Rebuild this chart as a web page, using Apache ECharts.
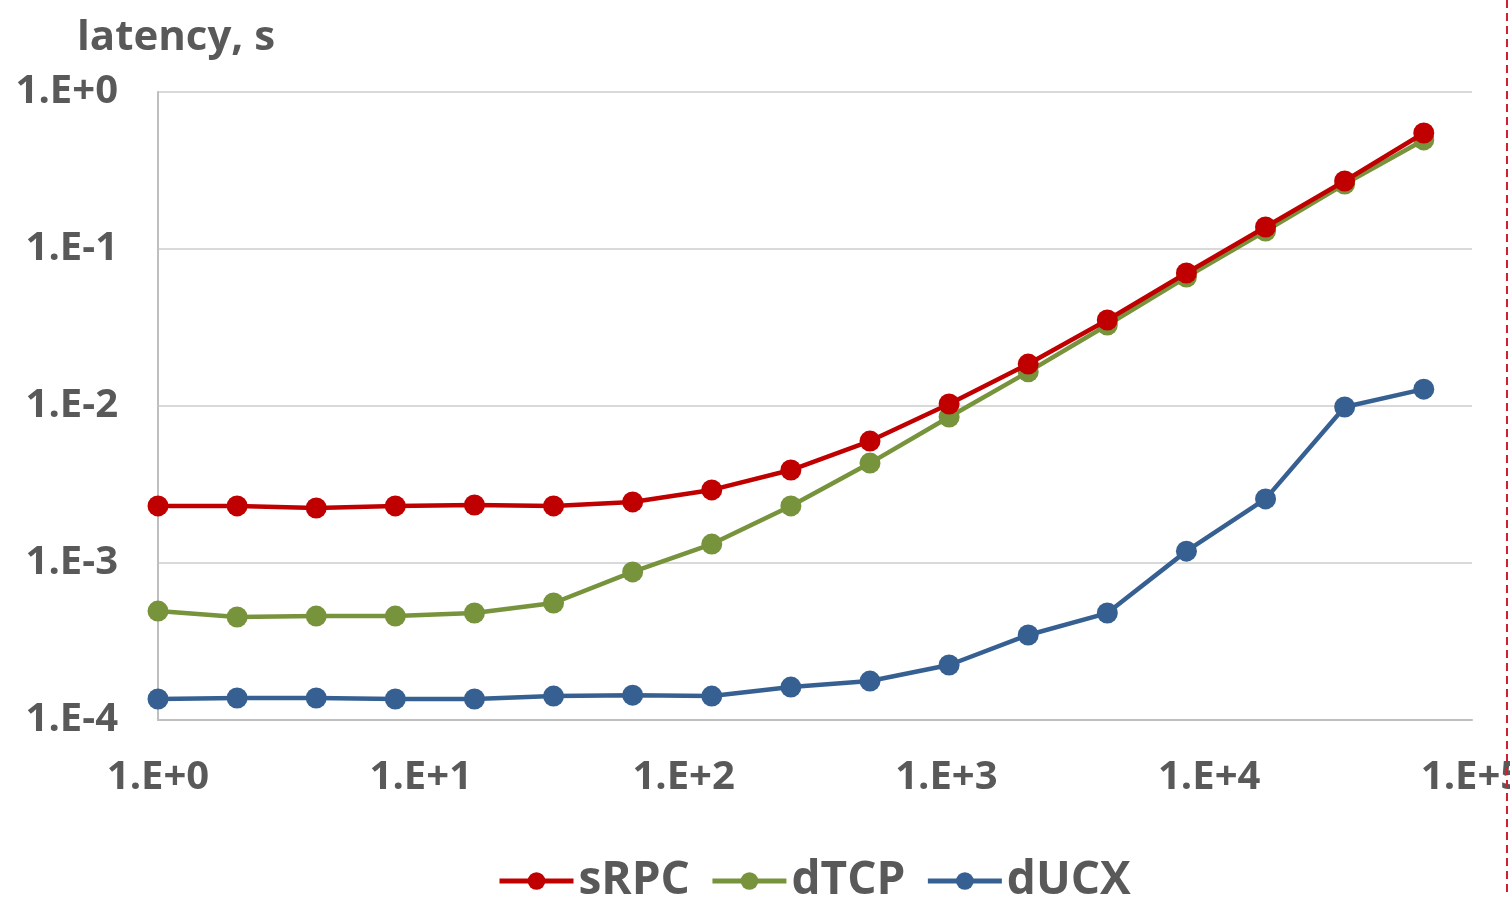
<!DOCTYPE html>
<html>
<head>
<meta charset="utf-8">
<script src="https://cdn.jsdelivr.net/npm/echarts@6/dist/echarts.min.js"></script>
<style>
  html, body { margin: 0; padding: 0; background: #fff; }
  #chart { width: 1510px; height: 897px; }
</style>
</head>
<body>
<div id="chart"></div>
<script>
// Message sizes (x axis) and measured latency in seconds for each transport
const sizes = [1, 2, 4, 8, 16, 32, 64, 128, 256, 512, 1024, 2048, 4096, 8192, 16384, 32768, 65536];
const sRPC = [2.31e-3, 2.31e-3, 2.24e-3, 2.31e-3, 2.34e-3, 2.31e-3, 2.45e-3, 2.92e-3, 3.91e-3, 5.98e-3,
              1.03e-2, 1.85e-2, 3.53e-2, 7.03e-2, 0.138, 0.271, 0.548];
const dTCP = [4.94e-4, 4.53e-4, 4.59e-4, 4.59e-4, 4.80e-4, 5.56e-4, 8.77e-4, 1.32e-3, 2.31e-3, 4.33e-3,
              8.51e-3, 1.65e-2, 3.28e-2, 6.63e-2, 0.130, 0.259, 0.495];
const dUCX = [1.36e-4, 1.38e-4, 1.38e-4, 1.36e-4, 1.36e-4, 1.42e-4, 1.44e-4, 1.42e-4, 1.62e-4, 1.77e-4,
              2.24e-4, 3.48e-4, 4.80e-4, 1.19e-3, 2.56e-3, 9.86e-3, 1.28e-2];
const seriesNames = ['sRPC', 'dTCP', 'dUCX'];
const seriesColors = ['#C00000', '#77933C', '#376092'];

const TEXT = '#595959';
const FONT = '"Open Sans", "Noto Sans", sans-serif';

function expLabel(v) {
  const e = Math.round(Math.log10(v));
  return '1.E' + (e >= 0 ? '+' : '-') + Math.abs(e);
}

const pairs = arr => sizes.map((s, i) => [s, arr[i]]);

const chart = echarts.init(document.getElementById('chart'), null, { renderer: 'canvas' });
chart.setOption({
  animation: false,
  backgroundColor: '#fff',
  textStyle: { fontFamily: FONT },
  title: {
    text: 'latency, s',
    left: 72,
    top: 12,
    textStyle: { color: TEXT, fontSize: 42, fontWeight: 'bold', fontFamily: FONT }
  },
  grid: { left: 158, right: 38, top: 92, bottom: 177, containLabel: false, outerBoundsMode: 'none' },
  xAxis: {
    type: 'log',
    logBase: 10,
    min: 1,
    max: 100000,
    axisLine: { show: true, lineStyle: { color: '#BFBFBF', width: 2 } },
    axisTick: { show: false },
    splitLine: { show: false },
    minorTick: { show: false },
    axisLabel: {
      formatter: expLabel,
      color: TEXT,
      fontSize: 40,
      fontWeight: 'bold',
      fontFamily: FONT,
      margin: 38,
      showMaxLabel: true,
      showMinLabel: true,
      hideOverlap: false
    }
  },
  yAxis: {
    type: 'log',
    logBase: 10,
    min: 1e-4,
    max: 1,
    axisLine: { show: true, lineStyle: { color: '#BFBFBF', width: 2 } },
    axisTick: { show: false },
    splitLine: { show: true, lineStyle: { color: '#D9D9D9', width: 2 } },
    axisLabel: {
      formatter: expLabel,
      color: TEXT,
      fontSize: 40,
      fontWeight: 'bold',
      fontFamily: FONT,
      margin: 40
    }
  },
  legend: {
    bottom: -12,
    left: 492,
    itemWidth: 74,
    itemHeight: 22,
    itemGap: 20,
    lineStyle: { width: 5 },
    textStyle: { color: TEXT, fontSize: 46, fontWeight: 'bold', fontFamily: FONT, padding: [0, 0, 0, 0] },
    data: seriesNames
  },
  series: [sRPC, dTCP, dUCX].map((arr, i) => ({
    name: seriesNames[i],
    type: 'line',
    data: pairs(arr),
    symbol: 'circle',
    symbolSize: 21,
    color: seriesColors[i],
    lineStyle: { width: 4.5, color: seriesColors[i] },
    itemStyle: { color: seriesColors[i] },
    z: 10 - i
  })),
  graphic: [{
    type: 'line',
    shape: { x1: 1507, y1: 0, x2: 1507, y2: 897 },
    style: { stroke: '#D02030', lineWidth: 2, lineDash: [8, 5] },
    z: 100
  }]
});
</script>
</body>
</html>
